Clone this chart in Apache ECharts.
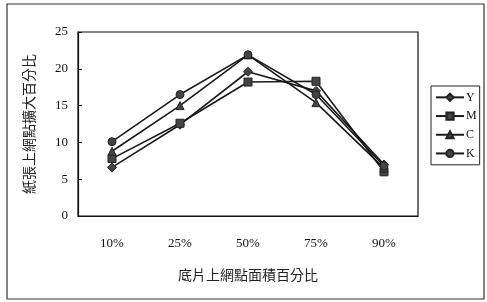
<!DOCTYPE html>
<html><head><meta charset="utf-8">
<script src="https://cdn.jsdelivr.net/npm/echarts@6/dist/echarts.min.js"></script>
<style>html,body{margin:0;padding:0;background:#fff}#c{width:487px;height:302px}</style>
</head><body><div id="c"></div>
<script>
const categories = ['10%', '25%', '50%', '75%', '90%'];
const seriesY = [6.6, 12.4, 19.6, 17.0, 7.0];
const seriesM = [7.8, 12.6, 18.2, 18.3, 6.0];
const seriesC = [8.8, 15.0, 21.9, 15.4, 6.5];
const seriesK = [10.1, 16.5, 21.9, 16.5, 6.8];
const yTicks = [0, 5, 10, 15, 20, 25];

const serif = 'Liberation Serif';
const cjk = 'Noto Sans CJK TC';
function mk(name, data, symbol, size) {
  return {
    name, type: 'line', data, symbol, symbolSize: size,
    lineStyle: {color: '#1a1a1a', width: 1.6},
    itemStyle: {color: '#444', borderColor: '#222', borderWidth: 1},
    emphasis: {disabled: true}, animation: false
  };
}
const chart = echarts.init(document.getElementById('c'), null, {renderer: 'canvas'});
chart.setOption({
  animation: false,
  backgroundColor: '#fff',
  graphic: [{type: 'rect', shape: {x: 7, y: 4, width: 477, height: 295}, style: {fill: 'none', stroke: '#333', lineWidth: 1.2}, silent: true}],
  grid: {left: 78, right: 69, top: 32, bottom: 86, show: true, borderColor: '#111', borderWidth: 1.2, backgroundColor: 'transparent'},
  xAxis: {
    type: 'category', data: categories, boundaryGap: true,
    name: '底片上網點面積百分比', nameLocation: 'middle', nameGap: 52,
    nameTextStyle: {fontFamily: cjk, fontSize: 14, color: '#222'},
    axisLine: {lineStyle: {color: '#111', width: 1.2}},
    axisTick: {inside: true, length: 4, lineStyle: {color: '#111'}},
    axisLabel: {fontFamily: serif, fontSize: 13, color: '#111', margin: 21}
  },
  yAxis: {
    type: 'value', min: yTicks[0], max: yTicks[yTicks.length - 1], interval: 5,
    name: '紙張上網點擴大百分比', nameLocation: 'middle', nameGap: 42, nameRotate: 90,
    nameTextStyle: {fontFamily: cjk, fontSize: 14, color: '#222'},
    splitLine: {show: false},
    axisLine: {show: true, lineStyle: {color: '#111', width: 1.2}},
    axisTick: {show: true, inside: true, length: 4, lineStyle: {color: '#111'}},
    axisLabel: {fontFamily: serif, fontSize: 13, color: '#111', margin: 10}
  },
  legend: {
    orient: 'vertical', left: 431, top: 86,
    data: ['Y', 'M', 'C', 'K'],
    itemWidth: 28, itemHeight: 9, itemGap: 4,
    padding: [4, 3, 4, 4],
    borderColor: '#222', borderWidth: 1,
    textStyle: {fontFamily: serif, fontSize: 12, lineHeight: 14.7, color: '#111', padding: [0, 0, 0, -3]},
    selectedMode: false
  },
  series: [
    mk('Y', seriesY, 'diamond', 9),
    mk('M', seriesM, 'rect', 8),
    mk('C', seriesC, 'triangle', 8),
    mk('K', seriesK, 'circle', 8)
  ]
});
</script></body></html>
